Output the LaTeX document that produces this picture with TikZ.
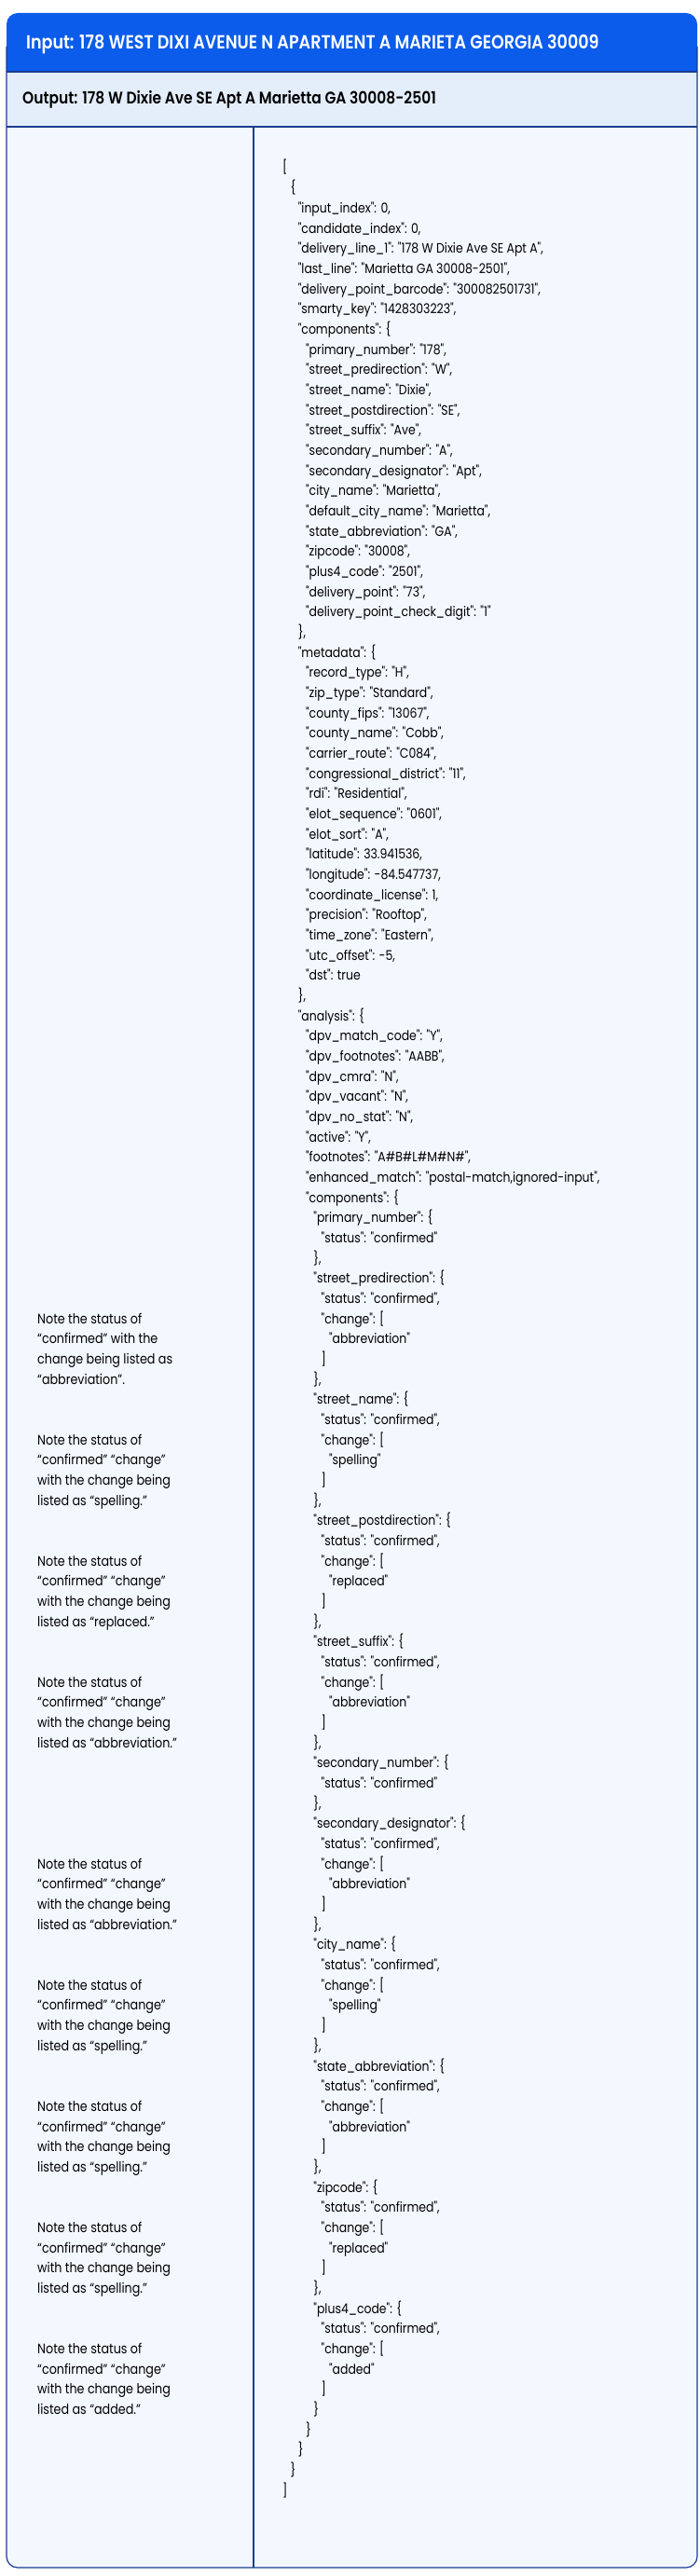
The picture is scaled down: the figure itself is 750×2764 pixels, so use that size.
\documentclass[tikz,border=0pt]{standalone}
\usepackage{fontspec}
\setmainfont{Poppins}
\newfontfamily\pop[FakeStretch=0.86]{Poppins}
\newfontfamily\popb[FakeStretch=0.86]{Poppins SemiBold}
\definecolor{hdr}{HTML}{0B5CEB}
\definecolor{navy}{HTML}{1B3C8E}
\definecolor{outbg}{HTML}{E4EEFB}
\definecolor{bodybg}{HTML}{F3F8FF}
\newcounter{jln}
\newcommand\jl[2]{\stepcounter{jln}\node[jtxt] (j\arabic{jln}) at ({303+8.3*#1},{-185-21.67*(\value{jln}-1)}) {#2};}
\newcounter{nln}
\newcommand\nt[5]{\stepcounter{nln}\node[ntxt] (n\arabic{nln}) at (40,{-185-21.67*(#1-1)}) {#2\\#3\\#4\\#5};}
\begin{document}
\begin{tikzpicture}[x=1pt,y=1pt,
  jtxt/.style={anchor=base west,inner sep=0pt,font=\pop\fontsize{14.5}{16}\selectfont},
  ntxt/.style={anchor=base west,inner sep=0pt,align=left,font=\pop\fontsize{14.8}{21.67}\selectfont},
  htxt/.style={anchor=west,inner sep=0pt,font=\popb\fontsize{18}{20}\selectfont}]
\useasboundingbox (0,0) rectangle (750,-2764);
\fill[bodybg,rounded corners=12] (7,-14) rectangle (748,-2755);
\fill[hdr,rounded corners=12] (7,-14) rectangle (748,-77);
\fill[hdr] (7,-50) rectangle (748,-77);
\fill[outbg] (7,-77) rectangle (748,-136);
\draw[navy,line width=1.2,rounded corners=12] (7,-50) -- (7,-2755) -- (748,-2755) -- (748,-50);
\draw[navy,line width=1.2] (7,-77) -- (748,-77) (7,-136) -- (748,-136);
\draw[navy,line width=1.2] (272,-136) -- (272,-2755);
\node[htxt,text=white,font=\popb\fontsize{20.4}{22}\selectfont] (inp) at (28,-48) {Input: 178 WEST DIXI AVENUE N APARTMENT A MARIETA GEORGIA 30009};
\node[htxt,text=black] (outp) at (24,-107) {Output: 178 W Dixie Ave SE Apt A Marietta GA 30008-2501};
\jl{0}{[}
\jl{1}{\{}
\jl{2}{"input\_index": 0,}
\jl{2}{"candidate\_index": 0,}
\jl{2}{"delivery\_line\_1": "178 W Dixie Ave SE Apt A",}
\jl{2}{"last\_line": "Marietta GA 30008-2501",}
\jl{2}{"delivery\_point\_barcode": "300082501731",}
\jl{2}{"smarty\_key": "1428303223",}
\jl{2}{"components": \{}
\jl{3}{"primary\_number": "178",}
\jl{3}{"street\_predirection": "W",}
\jl{3}{"street\_name": "Dixie",}
\jl{3}{"street\_postdirection": "SE",}
\jl{3}{"street\_suffix": "Ave",}
\jl{3}{"secondary\_number": "A",}
\jl{3}{"secondary\_designator": "Apt",}
\jl{3}{"city\_name": "Marietta",}
\jl{3}{"default\_city\_name": "Marietta",}
\jl{3}{"state\_abbreviation": "GA",}
\jl{3}{"zipcode": "30008",}
\jl{3}{"plus4\_code": "2501",}
\jl{3}{"delivery\_point": "73",}
\jl{3}{"delivery\_point\_check\_digit": "1"}
\jl{2}{\},}
\jl{2}{"metadata": \{}
\jl{3}{"record\_type": "H",}
\jl{3}{"zip\_type": "Standard",}
\jl{3}{"county\_fips": "13067",}
\jl{3}{"county\_name": "Cobb",}
\jl{3}{"carrier\_route": "C084",}
\jl{3}{"congressional\_district": "11",}
\jl{3}{"rdi": "Residential",}
\jl{3}{"elot\_sequence": "0601",}
\jl{3}{"elot\_sort": "A",}
\jl{3}{"latitude": 33.941536,}
\jl{3}{"longitude": -84.547737,}
\jl{3}{"coordinate\_license": 1,}
\jl{3}{"precision": "Rooftop",}
\jl{3}{"time\_zone": "Eastern",}
\jl{3}{"utc\_offset": -5,}
\jl{3}{"dst": true}
\jl{2}{\},}
\jl{2}{"analysis": \{}
\jl{3}{"dpv\_match\_code": "Y",}
\jl{3}{"dpv\_footnotes": "AABB",}
\jl{3}{"dpv\_cmra": "N",}
\jl{3}{"dpv\_vacant": "N",}
\jl{3}{"dpv\_no\_stat": "N",}
\jl{3}{"active": "Y",}
\jl{3}{"footnotes": "A\#B\#L\#M\#N\#",}
\jl{3}{"enhanced\_match": "postal-match,ignored-input",}
\jl{3}{"components": \{}
\jl{4}{"primary\_number": \{}
\jl{5}{"status": "confirmed"}
\jl{4}{\},}
\jl{4}{"street\_predirection": \{}
\jl{5}{"status": "confirmed",}
\jl{5}{"change": [}
\jl{6}{"abbreviation"}
\jl{5}{]}
\jl{4}{\},}
\jl{4}{"street\_name": \{}
\jl{5}{"status": "confirmed",}
\jl{5}{"change": [}
\jl{6}{"spelling"}
\jl{5}{]}
\jl{4}{\},}
\jl{4}{"street\_postdirection": \{}
\jl{5}{"status": "confirmed",}
\jl{5}{"change": [}
\jl{6}{"replaced"}
\jl{5}{]}
\jl{4}{\},}
\jl{4}{"street\_suffix": \{}
\jl{5}{"status": "confirmed",}
\jl{5}{"change": [}
\jl{6}{"abbreviation"}
\jl{5}{]}
\jl{4}{\},}
\jl{4}{"secondary\_number": \{}
\jl{5}{"status": "confirmed"}
\jl{4}{\},}
\jl{4}{"secondary\_designator": \{}
\jl{5}{"status": "confirmed",}
\jl{5}{"change": [}
\jl{6}{"abbreviation"}
\jl{5}{]}
\jl{4}{\},}
\jl{4}{"city\_name": \{}
\jl{5}{"status": "confirmed",}
\jl{5}{"change": [}
\jl{6}{"spelling"}
\jl{5}{]}
\jl{4}{\},}
\jl{4}{"state\_abbreviation": \{}
\jl{5}{"status": "confirmed",}
\jl{5}{"change": [}
\jl{6}{"abbreviation"}
\jl{5}{]}
\jl{4}{\},}
\jl{4}{"zipcode": \{}
\jl{5}{"status": "confirmed",}
\jl{5}{"change": [}
\jl{6}{"replaced"}
\jl{5}{]}
\jl{4}{\},}
\jl{4}{"plus4\_code": \{}
\jl{5}{"status": "confirmed",}
\jl{5}{"change": [}
\jl{6}{"added"}
\jl{5}{]}
\jl{4}{\}}
\jl{3}{\}}
\jl{2}{\}}
\jl{1}{\}}
\jl{0}{]}
\nt{61}{Note the status of}{“confirmed” with the}{change being listed as}{“abbreviation”.}
\nt{67}{Note the status of}{“confirmed” “change”}{with the change being}{listed as “spelling.”}
\nt{73}{Note the status of}{“confirmed” “change”}{with the change being}{listed as “replaced.”}
\nt{79}{Note the status of}{“confirmed” “change”}{with the change being}{listed as “abbreviation.”}
\nt{88}{Note the status of}{“confirmed” “change”}{with the change being}{listed as “abbreviation.”}
\nt{94}{Note the status of}{“confirmed” “change”}{with the change being}{listed as “spelling.”}
\nt{100}{Note the status of}{“confirmed” “change”}{with the change being}{listed as “spelling.”}
\nt{106}{Note the status of}{“confirmed” “change”}{with the change being}{listed as “spelling.”}
\nt{112}{Note the status of}{“confirmed” “change”}{with the change being}{listed as “added.”}
\end{tikzpicture}
\end{document}
